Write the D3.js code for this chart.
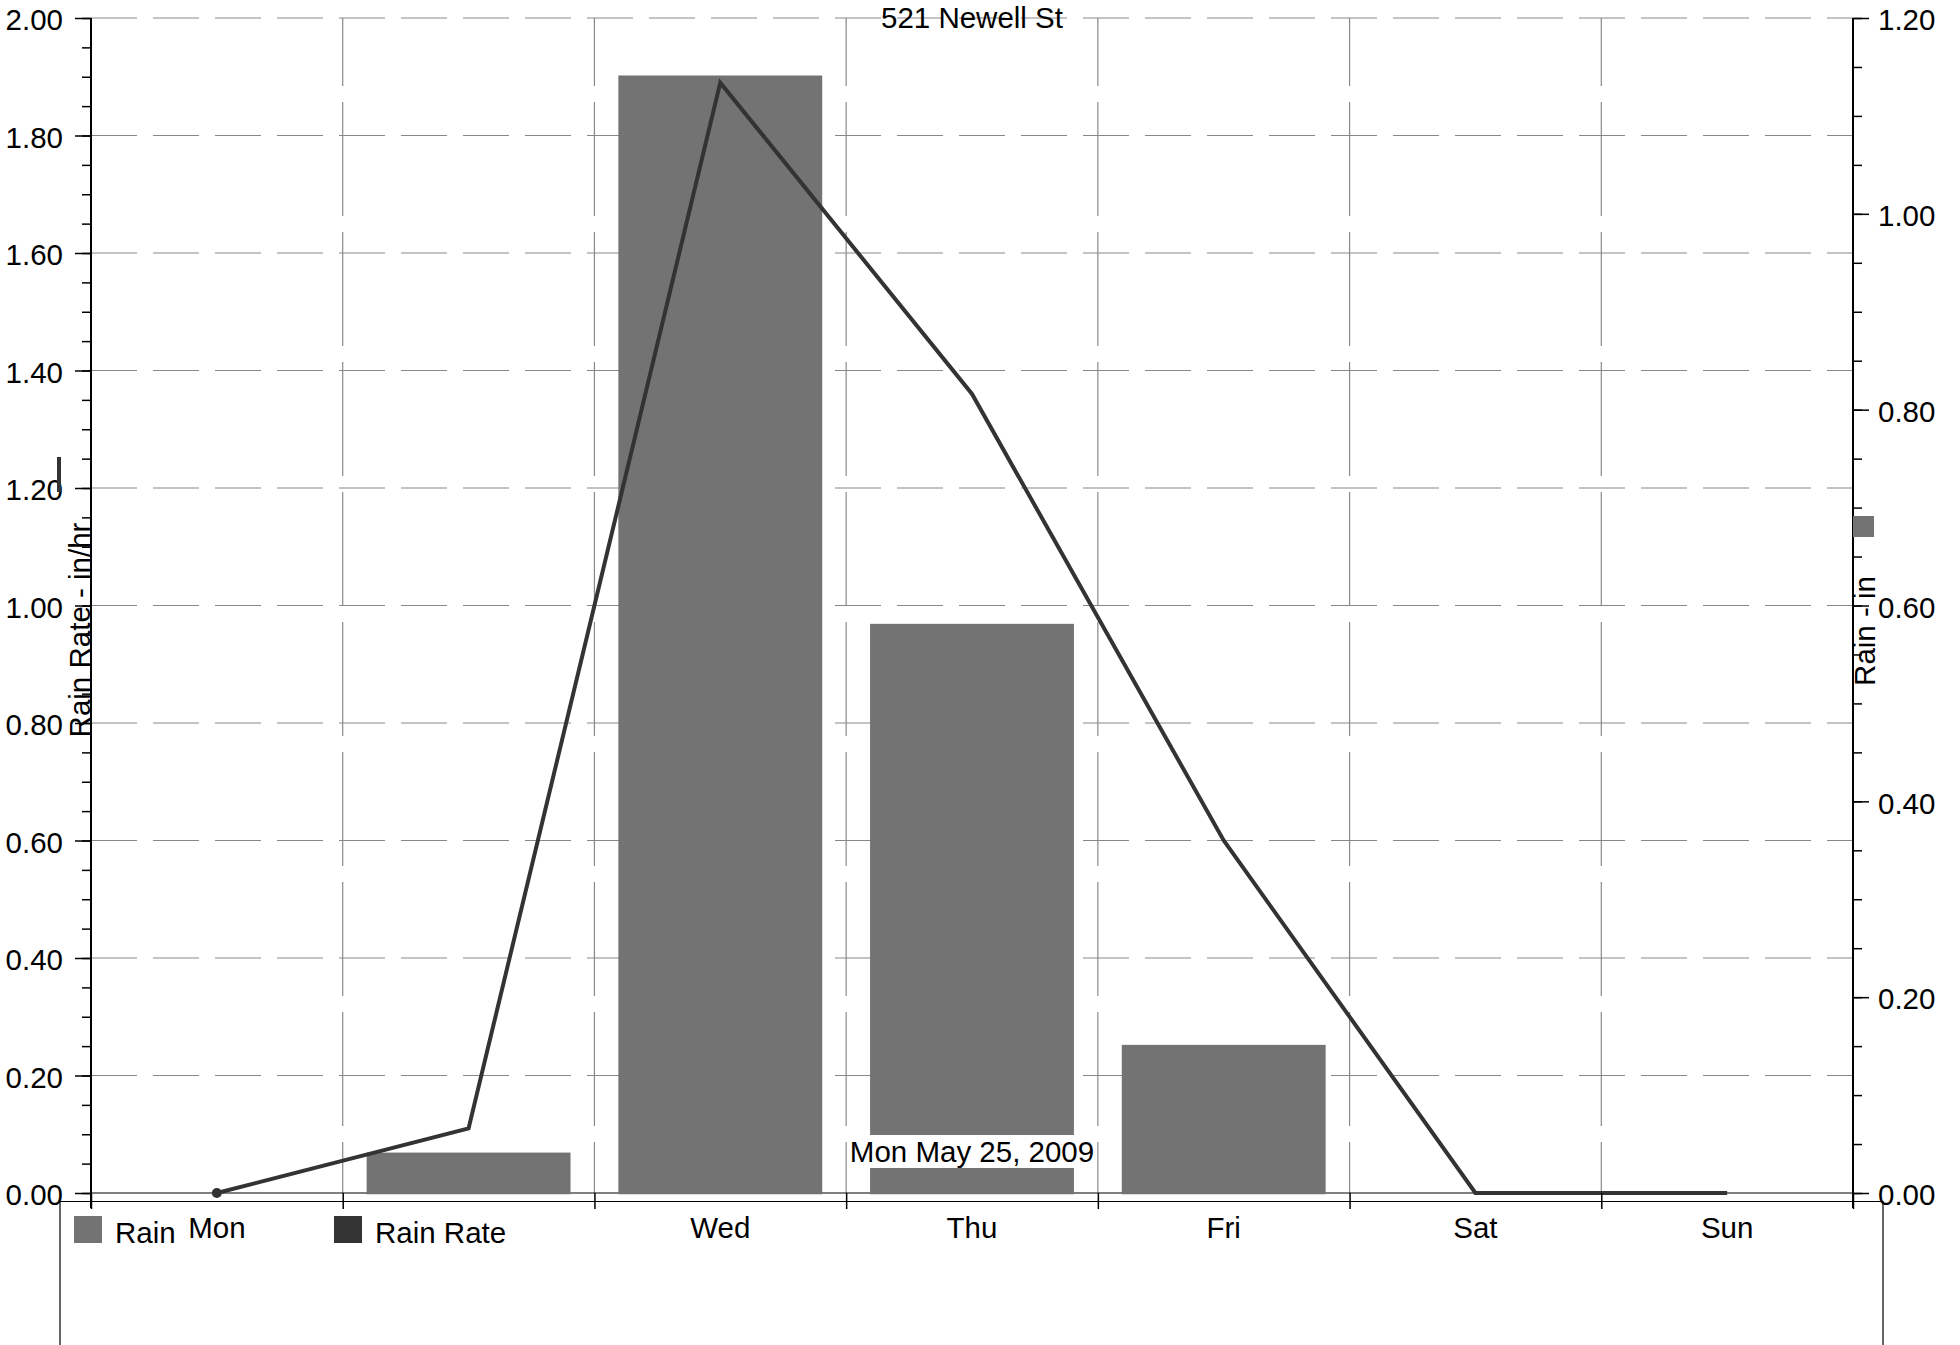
<!DOCTYPE html>
<html>
<head>
<meta charset="utf-8">
<script src="https://cdn.jsdelivr.net/npm/d3@7"></script>
<style>
  body { margin: 0; background: #fff; }
  svg text { font-family: "Liberation Sans", Arial, sans-serif; font-size: 29.5px; fill: #000; }
</style>
</head>
<body>
<div class="chart"></div>
<script>
// Weekly rain data
const days = ["Mon", "Tue", "Wed", "Thu", "Fri", "Sat", "Sun"];
const rain = [0, 0.04, 1.14, 0.58, 0.15, 0, 0]; // in, right axis
const rainRate = [0, 0.11, 1.89, 1.36, 0.6, 0, 0]; // in/hr, left axis

const rateTicks = [0, 0.2, 0.4, 0.6, 0.8, 1.0, 1.2, 1.4, 1.6, 1.8, 2.0];
const rainTicks = [0, 0.2, 0.4, 0.6, 0.8, 1.0, 1.2];
// "Tue" sits under the legend, the reference shows no label there
const dayLabels = ["Mon", "Wed", "Thu", "Fri", "Sat", "Sun"];

const chartTitle = "521 Newell St";
const dateLabel = "Mon May 25, 2009";
const legendItems = [
  { name: "Rain", color: "#737373" },
  { name: "Rain Rate", color: "#333333" },
];

const W = 1960, H = 1345;
const plot = { left: 91, right: 1853, top: 18, bottom: 1193 };

const svg = d3
  .select(".chart")
  .append("svg")
  .attr("width", W)
  .attr("height", H);

// scales
const x = d3.scaleBand().domain(days).range([plot.left, plot.right]).paddingInner(0.2).paddingOuter(0.1);
const xEdge = d3.scaleLinear().domain([0, days.length]).range([plot.left, plot.right]);
const yRate = d3.scaleLinear().domain([0, 2]).range([plot.bottom, plot.top]);
const yRain = d3.scaleLinear().domain([0, 1.2]).range([plot.bottom, plot.top]);

// legend box (behind everything)
svg.append("path")
  .attr("d", `M60,${H + 5}V1201.5H1883V${H + 5}`)
  .attr("fill", "none")
  .attr("stroke", "#000")
  .attr("stroke-width", 1.2);

// grid lines
svg.append("g")
  .selectAll("line")
  .data(rateTicks.filter((d) => d > 0))
  .join("line")
  .attr("x1", plot.left)
  .attr("x2", plot.right)
  .attr("y1", (d) => yRate(d))
  .attr("y2", (d) => yRate(d))
  .attr("stroke", "#888")
  .attr("stroke-width", 1.2)
  .attr("stroke-dasharray", "46,16");

svg.append("g")
  .selectAll("line")
  .data(d3.range(1, days.length))
  .join("line")
  .attr("x1", (d) => xEdge(d))
  .attr("x2", (d) => xEdge(d))
  .attr("y1", plot.top)
  .attr("y2", plot.bottom)
  .attr("stroke", "#888")
  .attr("stroke-width", 1.2)
  .attr("stroke-dasharray", "114,16")
  .attr("stroke-dashoffset", 46);

// zero line
svg.append("line")
  .attr("x1", plot.left).attr("x2", plot.right)
  .attr("y1", yRate(0)).attr("y2", yRate(0))
  .attr("stroke", "#000")
  .attr("stroke-width", 1.2);

// rain bars
svg.append("g")
  .selectAll("rect")
  .data(days)
  .join("rect")
  .attr("x", (d) => x(d))
  .attr("y", (d, i) => yRain(rain[i]))
  .attr("width", x.bandwidth())
  .attr("height", (d, i) => yRain(0) - yRain(rain[i]))
  .attr("fill", legendItems[0].color)
  .attr("stroke", legendItems[0].color)
  .attr("stroke-width", 2.5);

// rain rate line
const line = d3
  .line()
  .x((d) => x(d.day) + x.bandwidth() / 2)
  .y((d) => yRate(d.value));
const rateData = days.map((d, i) => ({ day: d, value: rainRate[i] }));

svg.append("path")
  .datum(rateData)
  .attr("d", line)
  .attr("fill", "none")
  .attr("stroke", legendItems[1].color)
  .attr("stroke-width", 4);

svg.append("circle")
  .attr("cx", x(days[0]) + x.bandwidth() / 2)
  .attr("cy", yRate(rainRate[0]))
  .attr("r", 5)
  .attr("fill", legendItems[1].color);

// left axis
const leftMinor = svg.append("g")
  .attr("transform", `translate(${plot.left},0)`)
  .call(d3.axisLeft(yRate).tickValues(d3.range(0, 2.001, 0.05)).tickSize(9).tickFormat(""));
const leftAxis = svg.append("g")
  .attr("transform", `translate(${plot.left},0)`)
  .call(d3.axisLeft(yRate).tickValues(rateTicks).tickSize(16).tickPadding(12).tickFormat(d3.format(".2f")));

// right axis
const rightMinor = svg.append("g")
  .attr("transform", `translate(${plot.right},0)`)
  .call(d3.axisRight(yRain).tickValues(d3.range(0, 1.201, 0.05)).tickSize(9).tickFormat(""));
const rightAxis = svg.append("g")
  .attr("transform", `translate(${plot.right},0)`)
  .call(d3.axisRight(yRain).tickValues(rainTicks).tickSize(16).tickPadding(9).tickFormat(d3.format(".2f")));

// bottom axis: ticks on the day edges, labels in the middle
const xTicks = svg.append("g")
  .attr("transform", `translate(0,${plot.bottom})`)
  .call(d3.axisBottom(xEdge).tickValues(d3.range(days.length + 1)).tickSize(16).tickFormat(""));
const xLabels = svg.append("g")
  .attr("transform", `translate(0,${plot.bottom})`)
  .call(d3.axisBottom(x).tickValues(dayLabels).tickSize(0).tickPadding(24));

[leftMinor, leftAxis, rightMinor, rightAxis, xTicks, xLabels].forEach((g) => {
  g.select(".domain").remove();
  g.attr("font-size", null).attr("font-family", null);
  g.selectAll(".tick line").attr("stroke", "#000").attr("stroke-width", 1.5);
});
leftAxis.selectAll("text").attr("dy", "0.4em");
rightAxis.selectAll("text").attr("dy", "0.4em");

// axis lines
[plot.left, plot.right].forEach((ax) => {
  svg.append("line")
    .attr("x1", ax).attr("x2", ax)
    .attr("y1", plot.top).attr("y2", plot.bottom + 15)
    .attr("stroke", "#000")
    .attr("stroke-width", 2);
});

// axis titles and colour keys
svg.append("rect").attr("x", 57).attr("y", 457).attr("width", 4).attr("height", 35)
  .attr("fill", legendItems[1].color);
svg.append("rect").attr("x", plot.right).attr("y", 516).attr("width", 21).attr("height", 21)
  .attr("fill", legendItems[0].color);

svg.append("text")
  .attr("transform", `translate(${plot.left - 1},630) rotate(-90)`)
  .attr("text-anchor", "middle")
  .text("Rain Rate - in/hr");
svg.append("text")
  .attr("transform", `translate(${plot.right + 22},631) rotate(-90)`)
  .attr("text-anchor", "middle")
  .text("Rain - in");

// title
svg.append("text")
  .attr("x", (plot.left + plot.right) / 2)
  .attr("y", 28)
  .attr("text-anchor", "middle")
  .text(chartTitle);

// date label with white background
const dateG = svg.append("g");
const dateText = dateG.append("text")
  .attr("x", (plot.left + plot.right) / 2)
  .attr("y", 1162)
  .attr("text-anchor", "middle")
  .text(dateLabel);
const bb = dateText.node().getBBox();
dateG.insert("rect", "text")
  .attr("x", bb.x)
  .attr("y", 1135)
  .attr("width", bb.width)
  .attr("height", 33)
  .attr("fill", "#fff");

// legend
const legend = svg.append("g")
  .selectAll("g")
  .data(legendItems)
  .join("g")
  .attr("transform", (d, i) => `translate(${74 + i * 260},1216)`);
legend.append("rect")
  .attr("width", 28).attr("height", 27)
  .attr("fill", (d) => d.color);
legend.append("text")
  .attr("x", 41)
  .attr("y", 27)
  .text((d) => d.name);
</script>
</body>
</html>
